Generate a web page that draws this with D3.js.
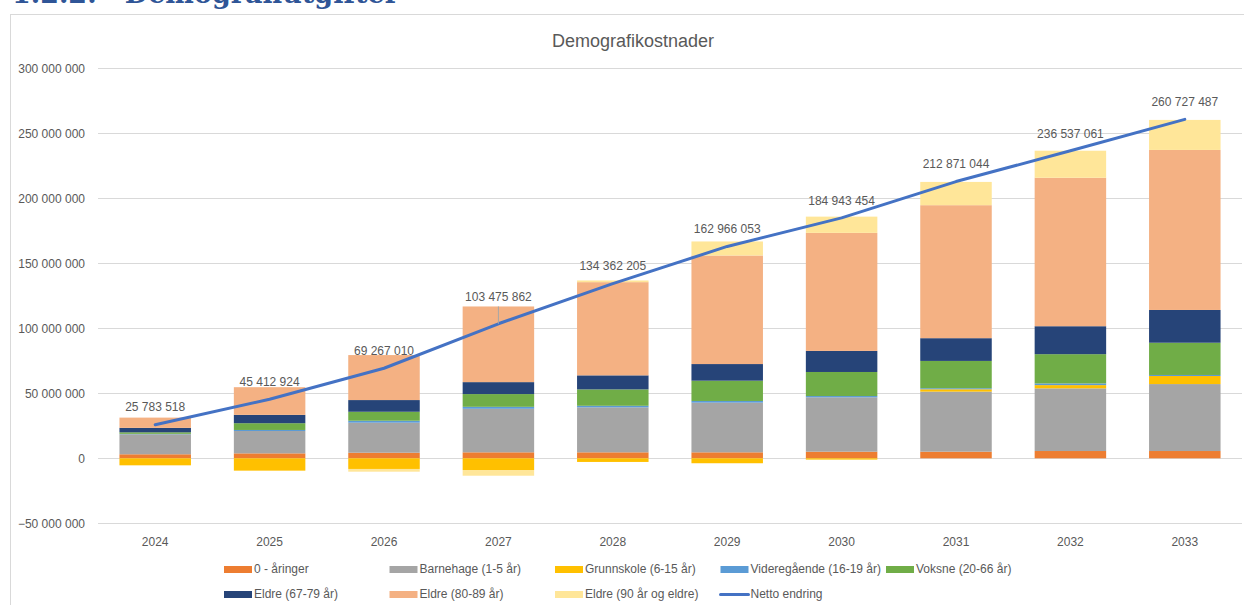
<!DOCTYPE html>
<html>
<head>
<meta charset="utf-8">
<script src="https://cdn.jsdelivr.net/npm/d3@7"></script>
<style>
  html, body { margin: 0; padding: 0; background: #fff; }
  svg { display: block; font-family: "Liberation Sans", Arial, sans-serif; }
</style>
</head>
<body>
<div id="chart"></div>
<script>
// years on the x axis
const years = ["2024", "2025", "2026", "2027", "2028", "2029", "2030", "2031", "2032", "2033"];

// series names (legend order = stack order)
const seriesNames = [
    "0 - åringer",
    "Barnehage (1-5 år)",
    "Grunnskole (6-15 år)",
    "Videregående (16-19 år)",
    "Voksne (20-66 år)",
    "Eldre (67-79 år)",
    "Eldre (80-89 år)",
    "Eldre (90 år og eldre)"
];
const seriesColors = ["#ED7D31", "#A5A5A5", "#FFC000", "#5B9BD5", "#70AD47", "#264478", "#F4B183", "#FFE699"];

// values in millions NOK
const nullAaringer = [3.1, 3.8, 4.3, 4.6, 4.6, 4.6, 5.1, 5.1, 5.6, 5.6];
const barnehage    = [15.4, 17.2, 23.1, 33.5, 34.6, 38.2, 41.8, 46.2, 48.2, 51.5];
const grunnskole   = [-5.4, -9.5, -8.2, -9.0, -2.8, -3.8, -1.0, 1.8, 2.5, 6.2];
const videregaende = [0.3, 0.8, 1.5, 1.5, 1.2, 1.3, 1.0, 0.8, 1.3, 0.8];
const voksne       = [1.2, 5.2, 6.9, 9.8, 12.6, 15.6, 18.5, 21.0, 22.5, 24.8];
const eldre6779    = [3.4, 6.4, 9.0, 9.2, 10.8, 12.8, 16.2, 17.5, 21.5, 25.2];
const eldre8089    = [7.9, 21.3, 34.6, 58.2, 71.7, 83.5, 90.8, 102.3, 114.2, 123.1];
const eldre90      = [0.0, 0.0, -2.1, -4.4, 1.3, 10.8, 12.5, 17.9, 20.8, 23.1];

// the net line (exact numbers from the data labels)
const nettoEndring = [25783518, 45412924, 69267010, 103475862, 134362205, 162966053, 184943454, 212871044, 236537061, 260727487];

const yTicks = [-50e6, 0, 50e6, 100e6, 150e6, 200e6, 250e6, 300e6];

const seriesValues = [nullAaringer, barnehage, grunnskole, videregaende, voksne, eldre6779, eldre8089, eldre90];

function drawChart() {
    const width = 1244;
    const height = 605;
    const textColor = "#595959";
    const gridColor = "#D9D9D9";

    const fmt = v => d3.format(",")(v).replace(/,/g, " ");

    const svg = d3.select("#chart")
        .append("svg")
        .attr("width", width)
        .attr("height", height);

    // heading of the document, cut off at the top of the page
    svg.append("text")
        .attr("x", 12)
        .attr("y", 3)
        .attr("font-family", "'DejaVu Serif', serif")
        .attr("font-weight", "bold")
        .attr("font-size", 27)
        .attr("fill", "#2F5597")
        .attr("xml:space", "preserve")
        .text("1.2.2.   Demografiutgifter");

    // chart frame
    svg.append("rect")
        .attr("x", 10.5)
        .attr("y", 14.5)
        .attr("width", 1260)
        .attr("height", 620)
        .attr("fill", "#fff")
        .attr("stroke", gridColor)
        .attr("stroke-width", 1);

    // chart title
    svg.append("text")
        .attr("x", 633)
        .attr("y", 47)
        .attr("text-anchor", "middle")
        .attr("font-size", 18)
        .attr("fill", textColor)
        .text("Demografikostnader");

    const x = d3.scaleBand()
        .domain(years)
        .range([98, 1242])
        .paddingInner(0.375)
        .paddingOuter(0.1875);

    const y = d3.scaleLinear()
        .domain([-50e6, 300e6])
        .range([523.3, 68.3]);

    // gridlines
    svg.append("g")
        .selectAll("line")
        .data(yTicks)
        .join("line")
        .attr("x1", 98)
        .attr("x2", 1242)
        .attr("y1", d => Math.round(y(d)) + 0.5)
        .attr("y2", d => Math.round(y(d)) + 0.5)
        .attr("stroke", gridColor)
        .attr("stroke-width", 1);

    // y axis labels
    svg.append("g")
        .selectAll("text")
        .data(yTicks)
        .join("text")
        .attr("x", 85)
        .attr("y", d => y(d))
        .attr("dy", "0.35em")
        .attr("text-anchor", "end")
        .attr("font-size", 12)
        .attr("fill", textColor)
        .text(d => fmt(d));

    // x axis labels
    svg.append("g")
        .selectAll("text")
        .data(years)
        .join("text")
        .attr("x", d => x(d) + x.bandwidth() / 2)
        .attr("y", 542)
        .attr("dy", "0.35em")
        .attr("text-anchor", "middle")
        .attr("font-size", 12)
        .attr("fill", textColor)
        .text(d => d);

    // stack positive values up and negative values down (like Excel)
    const segments = [];
    const posTop = [];
    years.forEach((yr, i) => {
        let pos = 0, neg = 0;
        seriesValues.forEach((vals, s) => {
            const v = vals[i] * 1e6;
            if (v === 0) return;
            let y0, y1;
            if (v > 0) { y0 = pos; y1 = pos + v; pos = y1; }
            else { y0 = neg; y1 = neg + v; neg = y1; }
            segments.push({ year: yr, series: s, y0, y1 });
        });
        posTop.push(pos);
    });

    svg.append("g")
        .selectAll("rect")
        .data(segments)
        .join("rect")
        .attr("x", d => x(d.year))
        .attr("width", x.bandwidth())
        .attr("y", d => y(Math.max(d.y0, d.y1)))
        .attr("height", d => Math.abs(y(d.y0) - y(d.y1)))
        .attr("fill", d => seriesColors[d.series]);

    // net line
    const cx = d => x(d) + x.bandwidth() / 2;
    const line = d3.line()
        .x((d, i) => cx(years[i]))
        .y(d => y(d));

    svg.append("path")
        .datum(nettoEndring)
        .attr("d", line)
        .attr("fill", "none")
        .attr("stroke", "#4472C4")
        .attr("stroke-width", 3)
        .attr("stroke-linecap", "round")
        .attr("stroke-linejoin", "round");

    // data labels above the line; moved above the bar when they would sit on it
    const labelGroup = svg.append("g");
    nettoEndring.forEach((v, i) => {
        const px = cx(years[i]);
        const py = y(v);
        let ly = py - 17.5;
        const barTop = y(posTop[i]);
        if (ly + 6 - barTop > 3) {
            ly = barTop - 10;
            labelGroup.append("line")
                .attr("x1", px).attr("x2", px)
                .attr("y1", barTop).attr("y2", py)
                .attr("stroke", "#A6A6A6")
                .attr("stroke-width", 1);
        }
        labelGroup.append("text")
            .attr("x", px)
            .attr("y", ly)
            .attr("dy", "0.35em")
            .attr("text-anchor", "middle")
            .attr("font-size", 12)
            .attr("fill", textColor)
            .text(fmt(v));
    });

    // legend
    const legendItems = seriesNames.map((n, i) => ({ name: n, color: seriesColors[i], type: "bar" }));
    legendItems.push({ name: "Netto endring", color: "#4472C4", type: "line" });

    const legend = svg.append("g")
        .selectAll("g")
        .data(legendItems)
        .join("g")
        .attr("transform", (d, i) => `translate(${224 + (i % 5) * 165.5},${569 + Math.floor(i / 5) * 25})`);

    legend.filter(d => d.type === "bar")
        .append("rect")
        .attr("x", 0)
        .attr("y", -3)
        .attr("width", 28)
        .attr("height", 7)
        .attr("fill", d => d.color);

    legend.filter(d => d.type === "line")
        .append("line")
        .attr("x1", 0)
        .attr("x2", 28)
        .attr("y1", 0.5)
        .attr("y2", 0.5)
        .attr("stroke", d => d.color)
        .attr("stroke-width", 3)
        .attr("stroke-linecap", "round");

    legend.append("text")
        .attr("x", 30)
        .attr("y", 0)
        .attr("dy", "0.35em")
        .attr("font-size", 12)
        .attr("fill", textColor)
        .text(d => d.name);
}

window.onload = drawChart;
</script>
</body>
</html>
